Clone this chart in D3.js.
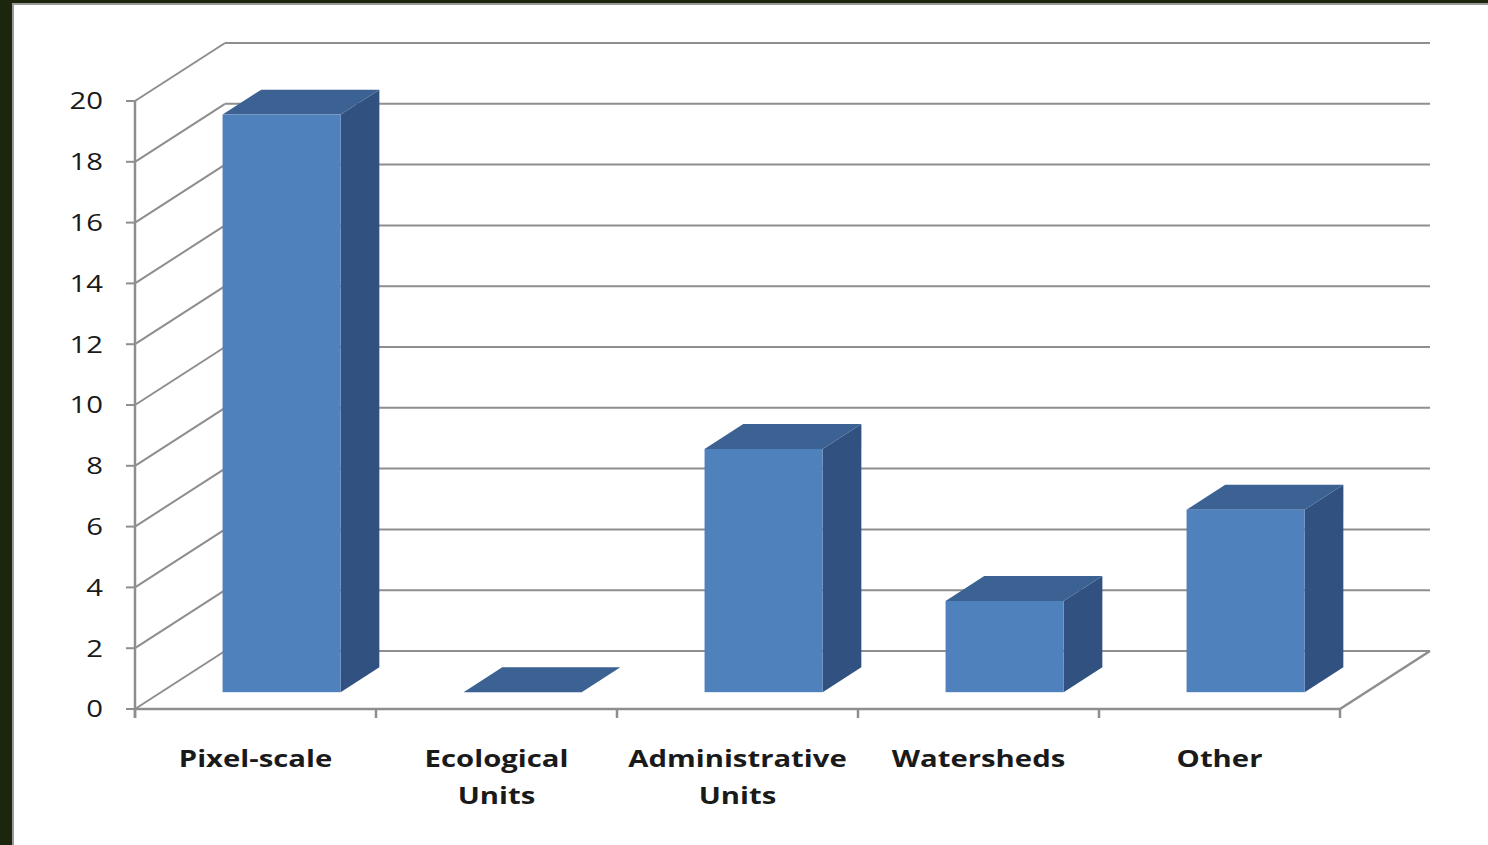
<!DOCTYPE html>
<html>
<head>
<meta charset="utf-8">
<script src="https://cdn.jsdelivr.net/npm/d3@7"></script>
<style>
  body { margin: 0; background: #fff; }
  svg { display: block; }
</style>
</head>
<body>
<div id="vis"></div>
<script>
const categories = [["Pixel-scale"], ["Ecological", "Units"], ["Administrative", "Units"], ["Watersheds"], ["Other"]];
const values = [19, 0, 8, 3, 6];
const yTicks = [0, 2, 4, 6, 8, 10, 12, 14, 16, 18, 20];

const FRAME_WIDTH = 1488;
const FRAME_HEIGHT = 845;
const DX = 90, DY = -58;          // depth of the plot box
const BAR_Z0 = 0.29, BAR_Z1 = 0.72; // bar front/back inside the depth
const GRID = "#8e8e8e";
const FONT = "'Open Sans', sans-serif";
const STRETCH = 1.22; // the slide text is drawn wide

const svg = d3.select("#vis").append("svg")
  .attr("width", FRAME_WIDTH)
  .attr("height", FRAME_HEIGHT);

// slide frame
svg.append("rect").attr("x", 0).attr("y", 0).attr("width", FRAME_WIDTH).attr("height", 3).attr("fill", "#1b260c");
svg.append("rect").attr("x", 0).attr("y", 0).attr("width", 12).attr("height", FRAME_HEIGHT).attr("fill", "#1b260c");
svg.append("rect").attr("x", 12).attr("y", 3).attr("width", FRAME_WIDTH).attr("height", 2).attr("fill", "#9a9a9a");
svg.append("rect").attr("x", 12).attr("y", 3).attr("width", 2).attr("height", FRAME_HEIGHT).attr("fill", "#9a9a9a");

const x = d3.scaleBand().domain(d3.range(categories.length)).range([135, 1340]);
const y = d3.scaleLinear().domain([0, 20]).range([709, 101]);

const g = svg.append("g");

// back wall gridlines + left wall diagonals
yTicks.forEach(t => {
  g.append("line")
    .attr("x1", 135 + DX).attr("x2", 1340 + DX)
    .attr("y1", y(t) + DY).attr("y2", y(t) + DY)
    .attr("stroke", GRID).attr("stroke-width", 2);
  g.append("line")
    .attr("x1", 135).attr("x2", 135 + DX)
    .attr("y1", y(t)).attr("y2", y(t) + DY)
    .attr("stroke", GRID).attr("stroke-width", 2);
  g.append("line")
    .attr("x1", 126).attr("x2", 135)
    .attr("y1", y(t)).attr("y2", y(t))
    .attr("stroke", GRID).attr("stroke-width", 2);
  g.append("text")
    .attr("transform", `translate(103,${y(t)}) scale(${STRETCH},1)`)
    .attr("dy", "0.35em")
    .attr("text-anchor", "end")
    .attr("font-family", FONT)
    .attr("font-size", 24)
    .attr("fill", "#1a1a1a")
    .text(t);
});

// floor front + right edges, front axis
g.append("line").attr("x1", 135).attr("x2", 1340).attr("y1", y(0)).attr("y2", y(0))
  .attr("stroke", GRID).attr("stroke-width", 2.5);
g.append("line").attr("x1", 1340).attr("x2", 1340 + DX).attr("y1", y(0)).attr("y2", y(0) + DY)
  .attr("stroke", GRID).attr("stroke-width", 2.5);
g.append("line").attr("x1", 135).attr("x2", 135).attr("y1", y(20)).attr("y2", y(0) + 9)
  .attr("stroke", GRID).attr("stroke-width", 2.5);
d3.range(categories.length + 1).forEach(i => {
  const xx = i < categories.length ? x(i) : x.range()[1];
  g.append("line").attr("x1", xx).attr("x2", xx).attr("y1", y(0)).attr("y2", y(0) + 9)
    .attr("stroke", GRID).attr("stroke-width", 2.5);
});

// bars
const bw = x.bandwidth() * 0.49;
const bdx = (BAR_Z1 - BAR_Z0) * DX, bdy = (BAR_Z1 - BAR_Z0) * DY;
values.forEach((v, i) => {
  const x0 = x(i) + (x.bandwidth() - bw) / 2 + BAR_Z0 * DX;
  const x1 = x0 + bw;
  const yb = y(0) + BAR_Z0 * DY;
  const yt = y(v) + BAR_Z0 * DY;
  const bar = g.append("g");
  // side
  bar.append("path")
    .attr("d", `M${x1},${yt} L${x1 + bdx},${yt + bdy} L${x1 + bdx},${yb + bdy} L${x1},${yb} Z`)
    .attr("fill", "#315280");
  // top
  bar.append("path")
    .attr("d", `M${x0},${yt} L${x0 + bdx},${yt + bdy} L${x1 + bdx},${yt + bdy} L${x1},${yt} Z`)
    .attr("fill", "#3b6292");
  // front
  bar.append("rect")
    .attr("x", x0).attr("y", yt).attr("width", bw).attr("height", yb - yt)
    .attr("fill", "#4f81bd");
});

// category labels
categories.forEach((lines, i) => {
  const t = g.append("text")
    .attr("transform", `translate(${x(i) + x.bandwidth() / 2},767) scale(${STRETCH},1)`)
    .attr("text-anchor", "middle")
    .attr("font-family", FONT)
    .attr("font-weight", "bold")
    .attr("font-size", 24)
    .attr("fill", "#1a1a1a");
  lines.forEach((s, k) => {
    t.append("tspan").attr("x", 0).attr("dy", k ? 37 : 0).text(s);
  });
});
</script>
</body>
</html>
